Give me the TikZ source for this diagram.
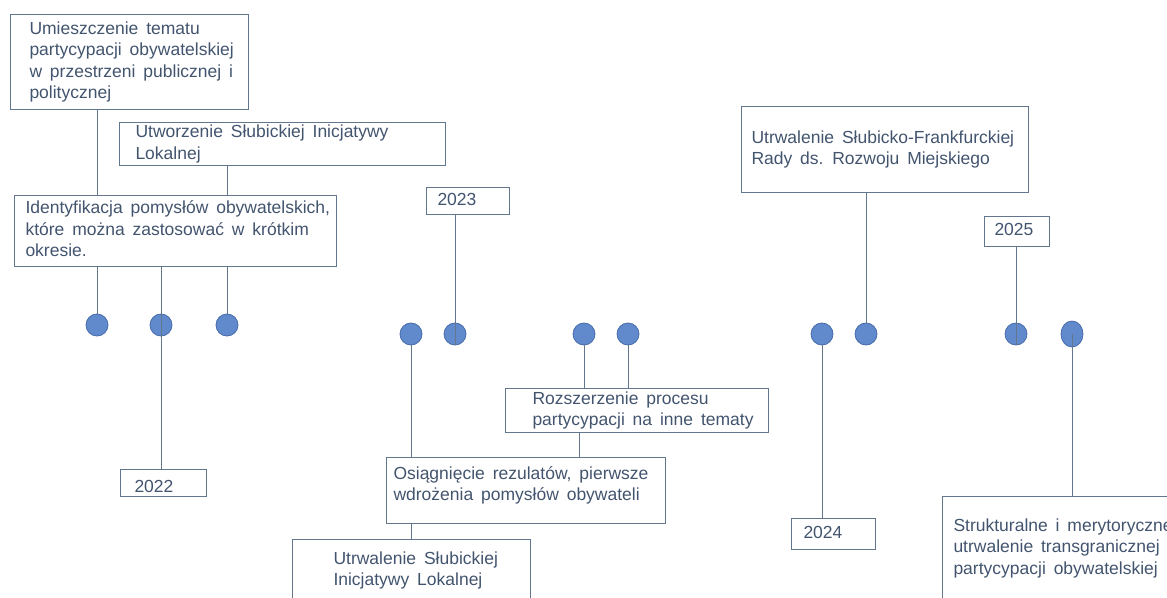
\documentclass[tikz,border=0pt]{standalone}
\usepackage{fontspec}
\setmainfont{Liberation Sans}
\usetikzlibrary{positioning, shapes.geometric}
\definecolor{linec}{RGB}{98,118,142}
\definecolor{textc}{RGB}{66,84,110}
\definecolor{dotfill}{RGB}{96,138,204}
\definecolor{dotdraw}{RGB}{72,108,170}
% lines of a box, never broken; first argument lifts them
\newcommand{\boxlines}[2]{\raisebox{#1}[\height][\depth]{\spaceskip=0.45em\relax\begin{tabular}{@{}l@{}}#2\end{tabular}}}
\tikzset{x=1pt, y=-1pt, % one unit is one pixel of the picture, y runs downwards
box/.style={draw=linec, line width=1pt, text=textc, align=left, anchor=north west, inner ysep=0pt, font=\fontsize{17.5}{21.5}\selectfont}, % text boxes
dot/.style={circle, draw=dotdraw, fill=dotfill, line width=0.8pt, minimum size=22pt, inner sep=0pt}, % points of the timeline
link/.style={draw=linec, line width=1pt}, % vertical connectors
}
\begin{document}
\begin{tikzpicture}
    \useasboundingbox (0,0) rectangle (1167,597);
    \clip (0,0) rectangle (1167,597);
    % boxes
    \node[box, minimum width=238pt, minimum height=95pt, text width=200pt, inner xsep=19pt] (place) at (10,14) {\boxlines{0pt}{Umieszczenie tematu\\partycypacji obywatelskiej\\w przestrzeni publicznej i\\politycznej}};
    \node[box, minimum width=326pt, minimum height=42pt, text width=294pt, inner xsep=16pt] (found) at (119,122) {\boxlines{0pt}{Utworzenie Słubickiej Inicjatywy\\Lokalnej}};
    \node[box, minimum width=322pt, minimum height=71pt, text width=300pt, inner xsep=11pt] (ideas) at (14,195) {\boxlines{0pt}{Identyfikacja pomysłów obywatelskich,\\które można zastosować w krótkim\\okresie.}};
    \node[box, minimum width=86pt, minimum height=27pt, text width=58pt, inner xsep=14pt] (y22) at (120,469) {\boxlines{-5pt}{2022}};
    \node[box, minimum width=83pt, minimum height=27pt, text width=61pt, inner xsep=11pt] (y23) at (426,187) {\boxlines{0pt}{2023}};
    \node[box, minimum width=263pt, minimum height=44pt, text width=209pt, inner xsep=27pt] (extend) at (505,388) {\boxlines{0pt}{Rozszerzenie procesu\\partycypacji na inne tematy}};
    \node[box, minimum width=279pt, minimum height=66pt, text width=265pt, inner xsep=7pt] (results) at (386,457) {\boxlines{5pt}{Osiągnięcie rezulatów, pierwsze\\wdrożenia pomysłów obywateli}};
    \node[box, minimum width=238pt, minimum height=62pt, text width=156pt, inner xsep=41pt] (keep) at (292,539) {\boxlines{0pt}{Utrwalenie Słubickiej\\Inicjatywy Lokalnej}};
    \node[box, minimum width=287pt, minimum height=86pt, text width=267pt, inner xsep=10pt] (council) at (741,106) {\boxlines{0pt}{Utrwalenie Słubicko-Frankfurckiej\\Rady ds. Rozwoju Miejskiego}};
    \node[box, minimum width=84pt, minimum height=31pt, text width=60pt, inner xsep=12pt] (y24) at (791,518) {\boxlines{0pt}{2024}};
    \node[box, minimum width=65pt, minimum height=30pt, text width=45pt, inner xsep=10pt] (y25) at (984,216) {\boxlines{0pt}{2025}};
    \node[box, minimum width=240pt, minimum height=104pt, text width=218pt, inner xsep=11pt] (cross) at (942,496) {\boxlines{0pt}{Strukturalne i merytoryczne\\utrwalenie transgranicznej\\partycypacji obywatelskiej}};
    % points
    \node[dot] (d1) at (97,325) {};
    \node[dot] (d2) at (161,325) {};
    \node[dot] (d3) at (227,325) {};
    \node[dot] (d4) at (411,334) {};
    \node[dot] (d5) at (455,334) {};
    \node[dot] (d6) at (584,334) {};
    \node[dot] (d7) at (628,334) {};
    \node[dot] (d8) at (822,334) {};
    \node[dot] (d9) at (866,334) {};
    \node[dot] (d10) at (1016,334) {};
    \node[dot, ellipse, minimum width=22pt, minimum height=26pt] (d11) at (1072,334) {};
    % connectors
    \draw[link] (place.south -| d1) -- (ideas.north -| d1)
    (ideas.south -| d1) -- (d1)
    (found.south -| d3) -- (ideas.north -| d3)
    (ideas.south -| d3) -- (d3)
    (ideas.south -| d2) -- (y22.north -| d2)
    (y23.south -| d5) -- (d5.south)
    (d4) -- (results.north -| d4)
    (results.south -| d4) -- (keep.north -| d4)
    (d6) -- (extend.north -| d6)
    (d7) -- (extend.north -| d7)
    ([xshift=-5pt]extend.south -| d6) -- ([xshift=-5pt]results.north -| d6)
    (council.south -| d9) -- (d9)
    (d8) -- (y24.north -| d8)
    (y25.south -| d10) -- (d10.south)
    (d11.center) -- (cross.north -| d11);
\end{tikzpicture}
\end{document}
